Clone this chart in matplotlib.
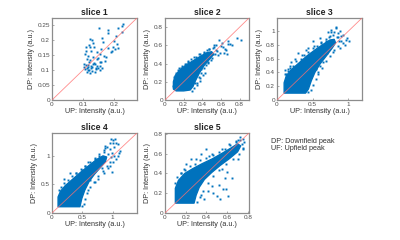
import numpy as np
import matplotlib
matplotlib.use("Agg")
import matplotlib.pyplot as plt

plt.rcParams['font.family'] = ['Liberation Sans', 'DejaVu Sans']

# ---- data (UP intensity, DP intensity) ----
titles = ['slice 1', 'slice 2', 'slice 3', 'slice 4', 'slice 5']
limits = [0.275, 0.9, 1.19, 1.4, 0.81]
xticks = [[0, 0.1, 0.2], [0, 0.2, 0.4, 0.6, 0.8], [0, 0.5, 1],
          [0, 0.5, 1], [0, 0.2, 0.4, 0.6, 0.8]]
yticks = [[0, 0.05, 0.1, 0.15, 0.2, 0.25], [0, 0.2, 0.4, 0.6, 0.8],
          [0, 0.2, 0.4, 0.6, 0.8, 1], [0, 0.5, 1], [0, 0.2, 0.4, 0.6, 0.8]]

# slice 1: few points, all listed
s1_up = [0, 0.152, 0.182, 0.225, 0.180, 0.225, 0.207, 0.122, 0.131, 0.163, 0.165,
         0.199, 0.209, 0.196, 0.182, 0.109, 0.123, 0.137, 0.110, 0.127, 0.145,
         0.155, 0.167, 0.106, 0.117, 0.134, 0.112, 0.124, 0.145, 0.155, 0.121,
         0.134, 0.110, 0.126, 0.145, 0.155, 0.114, 0.127, 0.108, 0.121, 0.142,
         0.150, 0.155, 0.138, 0.112, 0.123, 0.162, 0.115, 0.204, 0.195, 0.215,
         0.190, 0.118, 0.130, 0.140, 0.105, 0.148, 0.170, 0.135, 0.116, 0.128,
         0.175, 0.160, 0.119, 0.133, 0.103, 0.230, 0.212, 0.142, 0.158]
s1_dp = [0, 0.243, 0.235, 0.249, 0.224, 0.229, 0.216, 0.205, 0.200, 0.209, 0.193,
         0.198, 0.187, 0.178, 0.175, 0.177, 0.179, 0.179, 0.164, 0.164, 0.160,
         0.153, 0.149, 0.153, 0.149, 0.145, 0.137, 0.134, 0.137, 0.129, 0.126,
         0.122, 0.117, 0.115, 0.115, 0.115, 0.106, 0.108, 0.103, 0.101, 0.104,
         0.108, 0.101, 0.095, 0.095, 0.089, 0.108, 0.112, 0.170, 0.166, 0.176,
         0.160, 0.118, 0.110, 0.120, 0.110, 0.140, 0.130, 0.125, 0.099, 0.098,
         0.145, 0.170, 0.185, 0.190, 0.122, 0.255, 0.240, 0.107, 0.127]

# slices 2-5: outline of the dense core, speckled edge points, outliers
s2_core_up = [0.09, 0.09, 0.11, 0.16, 0.22, 0.30, 0.38, 0.45, 0.50, 0.52, 0.48, 0.42,
              0.37, 0.33, 0.30, 0.27, 0.20, 0.12]
s2_core_dp = [0.12, 0.20, 0.27, 0.33, 0.38, 0.43, 0.48, 0.52, 0.53, 0.50, 0.45, 0.38,
              0.30, 0.22, 0.15, 0.11, 0.10, 0.10]
s2_edge_up = [0.10, 0.12, 0.14, 0.18, 0.21, 0.25, 0.28, 0.33, 0.37, 0.42, 0.47, 0.51,
              0.55, 0.54, 0.50, 0.46, 0.42, 0.39, 0.36, 0.34, 0.31, 0.29, 0.085, 0.10, 0.15]
s2_edge_dp = [0.25, 0.30, 0.33, 0.37, 0.40, 0.42, 0.45, 0.47, 0.50, 0.53, 0.56, 0.57,
              0.55, 0.50, 0.46, 0.41, 0.35, 0.30, 0.25, 0.19, 0.13, 0.10, 0.15, 0.19, 0.35]
s2_up = [0, 0.58, 0.61, 0.67, 0.68, 0.60, 0.77, 0.81, 0.65, 0.56, 0.51, 0.42, 0.34,
         0.28, 0.39, 0.41, 0.37, 0.34, 0.44, 0.55, 0.62, 0.57, 0.63, 0.70, 0.72,
         0.53, 0.47, 0.45, 0.36, 0.31, 0.25, 0.22, 0.17, 0.40, 0.46, 0.59, 0.64,
         0.66, 0.49, 0.43, 0.38, 0.32, 0.29, 0.42, 0.52]
s2_dp = [0, 0.66, 0.63, 0.65, 0.61, 0.59, 0.68, 0.66, 0.55, 0.54, 0.51, 0.52, 0.45,
         0.38, 0.34, 0.27, 0.21, 0.16, 0.38, 0.60, 0.58, 0.49, 0.52, 0.62, 0.60,
         0.58, 0.56, 0.55, 0.50, 0.47, 0.43, 0.40, 0.35, 0.44, 0.42, 0.52, 0.56,
         0.50, 0.44, 0.30, 0.24, 0.19, 0.17, 0.46, 0.60]

s3_core_up = [0.10, 0.10, 0.13, 0.20, 0.30, 0.42, 0.55, 0.65, 0.74, 0.80, 0.82, 0.77,
              0.69, 0.60, 0.53, 0.48, 0.44, 0.40]
s3_core_dp = [0.10, 0.25, 0.35, 0.44, 0.53, 0.64, 0.74, 0.81, 0.87, 0.88, 0.83, 0.75,
              0.64, 0.52, 0.40, 0.28, 0.16, 0.10]
s3_edge_up = [0.11, 0.15, 0.18, 0.22, 0.27, 0.33, 0.38, 0.44, 0.50, 0.56, 0.62, 0.68,
              0.73, 0.78, 0.84, 0.87, 0.85, 0.80, 0.74, 0.68, 0.63, 0.58, 0.54, 0.50,
              0.47, 0.44, 0.90, 0.76, 0.70]
s3_edge_dp = [0.38, 0.42, 0.47, 0.50, 0.56, 0.60, 0.65, 0.70, 0.75, 0.79, 0.84, 0.88,
              0.92, 0.95, 0.91, 0.86, 0.79, 0.72, 0.64, 0.56, 0.47, 0.38, 0.30, 0.22,
              0.14, 0.11, 0.93, 0.98, 0.80]
s3_up = [0, 0.83, 0.71, 0.97, 1.01, 0.11, 0.40, 0.75, 0.82, 0.80, 0.85, 0.90, 0.95,
         0.88, 0.78, 0.70, 0.65, 0.60, 0.55, 0.50, 0.45, 0.20, 0.25, 0.30, 0.50,
         0.60, 0.15, 0.98, 0.92, 0.88, 0.86, 0.93, 0.68, 0.74, 0.35, 0.44, 0.52,
         0.62, 0.57, 0.47, 0.13, 0.18]
s3_dp = [0, 1.065, 0.98, 0.87, 0.85, 0.43, 0.73, 1.02, 1.05, 0.98, 0.92, 0.86, 0.80,
         0.75, 0.70, 0.68, 0.55, 0.50, 0.45, 0.40, 0.28, 0.55, 0.60, 0.68, 0.85,
         0.90, 0.45, 0.90, 0.95, 1.00, 0.97, 0.83, 0.86, 0.93, 0.66, 0.76, 0.78,
         0.82, 0.40, 0.33, 0.38, 0.50]

s4_core_up = [0.10, 0.10, 0.14, 0.22, 0.34, 0.48, 0.62, 0.74, 0.84, 0.90, 0.88, 0.80,
              0.70, 0.61, 0.54, 0.49, 0.46]
s4_core_dp = [0.11, 0.28, 0.38, 0.48, 0.59, 0.72, 0.84, 0.94, 1.00, 0.98, 0.90, 0.80,
              0.68, 0.55, 0.40, 0.25, 0.11]
s4_edge_up = [0.11, 0.15, 0.20, 0.27, 0.33, 0.40, 0.47, 0.55, 0.62, 0.70, 0.78, 0.86,
              0.93, 0.97, 0.95, 0.90, 0.84, 0.76, 0.69, 0.63, 0.58, 0.55, 0.52, 0.50,
              0.98, 1.02, 0.88]
s4_edge_dp = [0.40, 0.45, 0.52, 0.58, 0.64, 0.70, 0.77, 0.83, 0.90, 0.97, 1.03, 1.07,
              1.04, 0.98, 0.90, 0.83, 0.74, 0.64, 0.55, 0.45, 0.35, 0.25, 0.16, 0.12,
              1.05, 0.99, 1.13]
s4_up = [0, 1.04, 1.01, 1.08, 0.98, 0.97, 1.00, 1.05, 0.95, 1.02, 1.10, 1.08, 1.12,
         1.00, 0.95, 0.85, 0.90, 0.78, 0.70, 0.60, 0.50, 0.40, 0.85, 0.75, 0.70,
         0.60, 0.20, 0.30, 0.95, 0.88, 1.06, 0.66, 0.55, 0.82, 0.92, 0.62, 0.45]
s4_dp = [0, 1.29, 1.23, 1.20, 0.72, 1.30, 1.28, 1.22, 1.22, 1.15, 1.05, 1.00, 1.08,
         0.90, 0.82, 1.10, 1.15, 1.00, 0.95, 0.90, 0.75, 0.70, 0.70, 0.60, 0.55,
         0.40, 0.60, 0.70, 1.12, 1.18, 0.95, 0.82, 0.82, 0.78, 0.78, 0.58, 0.40]

s5_core_up = [0.10, 0.10, 0.13, 0.19, 0.27, 0.36, 0.46, 0.56, 0.64, 0.70, 0.73, 0.70,
              0.62, 0.53, 0.45, 0.38, 0.33, 0.30, 0.28]
s5_core_dp = [0.10, 0.25, 0.33, 0.40, 0.45, 0.50, 0.55, 0.61, 0.66, 0.70, 0.68, 0.62,
              0.55, 0.48, 0.41, 0.34, 0.26, 0.18, 0.10]
s5_edge_up = [0.10, 0.12, 0.15, 0.19, 0.24, 0.29, 0.34, 0.40, 0.46, 0.52, 0.58, 0.63,
              0.68, 0.72, 0.76, 0.75, 0.71, 0.66, 0.59, 0.52, 0.46, 0.41, 0.37, 0.34,
              0.31, 0.25, 0.20]
s5_edge_dp = [0.30, 0.36, 0.40, 0.44, 0.48, 0.50, 0.54, 0.56, 0.59, 0.62, 0.65, 0.69,
              0.73, 0.74, 0.72, 0.66, 0.60, 0.55, 0.50, 0.44, 0.37, 0.30, 0.22, 0.16,
              0.11, 0.40, 0.38]
s5_up = [0, 0.72, 0.75, 0.70, 0.68, 0.62, 0.55, 0.45, 0.40, 0.30, 0.35, 0.25, 0.20,
         0.50, 0.55, 0.45, 0.46, 0.50, 0.53, 0.555, 0.587, 0.61, 0.52, 0.60, 0.65,
         0.70, 0.75, 0.35, 0.38, 0.41, 0.18, 0.15, 0.42, 0.66, 0.74, 0.58]
s5_dp = [0, 0.77, 0.75, 0.74, 0.72, 0.70, 0.65, 0.60, 0.65, 0.55, 0.60, 0.55, 0.50,
         0.50, 0.45, 0.27, 0.20, 0.17, 0.14, 0.24, 0.24, 0.17, 0.28, 0.42, 0.35,
         0.55, 0.65, 0.18, 0.14, 0.22, 0.45, 0.40, 0.58, 0.62, 0.70, 0.35]

points = [(s1_up, s1_dp), (s2_up + s2_edge_up, s2_dp + s2_edge_dp),
          (s3_up + s3_edge_up, s3_dp + s3_edge_dp),
          (s4_up + s4_edge_up, s4_dp + s4_edge_dp),
          (s5_up + s5_edge_up, s5_dp + s5_edge_dp)]
cores = [None, (s2_core_up, s2_core_dp), (s3_core_up, s3_core_dp),
         (s4_core_up, s4_core_dp), (s5_core_up, s5_core_dp)]

blue = '#0072BD'
txt = '#4d4d4d'

fig = plt.figure(figsize=(4, 2.4), dpi=100)
W, H = 400.0, 240.0
boxes = [(52, 18, 85, 82), (165, 18, 84, 82), (277, 18, 85, 82),
         (52, 133, 85, 80), (165, 133, 84, 80)]

for i in range(5):
    l, t, w, h = boxes[i]
    ax = fig.add_axes([l / W, 1 - (t + h) / H, w / W, h / H])
    lim = limits[i]
    if cores[i] is not None:
        ax.fill(cores[i][0], cores[i][1], color=blue, lw=1.0, ec=blue,
                joinstyle='round', zorder=2)
    ax.plot(points[i][0], points[i][1], 's', ms=1.4, mew=0, color=blue, zorder=2)
    ax.plot([0, lim], [0, lim], color='#ff6f6f', lw=0.6, alpha=0.8, zorder=3)
    ax.set_xlim(0, lim)
    ax.set_ylim(0, lim)
    ax.set_xticks(xticks[i])
    ax.set_yticks(yticks[i])
    ax.set_xticklabels([('%g' % v) for v in xticks[i]])
    ax.set_yticklabels([('%g' % v) for v in yticks[i]])
    ax.tick_params(direction='in', length=1.5, width=0.5, colors='#888888',
                   labelcolor=txt, labelsize=4.6, pad=1.5)
    for sp in ax.spines.values():
        sp.set_color('#8c8c8c')
        sp.set_linewidth(0.9)
    ax.set_title(titles[i], fontsize=6.2, fontweight='bold', color='#222222', pad=2)
    ax.set_xlabel('UP: Intensity (a.u.)', fontsize=5.2, color='#333333', labelpad=1)
    ax.set_ylabel('DP: Intensity (a.u.)', fontsize=5.2, color='#333333', labelpad=2)

fig.text(271 / W, 1 - 141.5 / H, 'DP: Downfield peak', fontsize=5.2, color='#333333', va='center')
fig.text(271 / W, 1 - 148.5 / H, 'UF: Upfield peak', fontsize=5.2, color='#333333', va='center')

fig.savefig('out.png', dpi=100)
